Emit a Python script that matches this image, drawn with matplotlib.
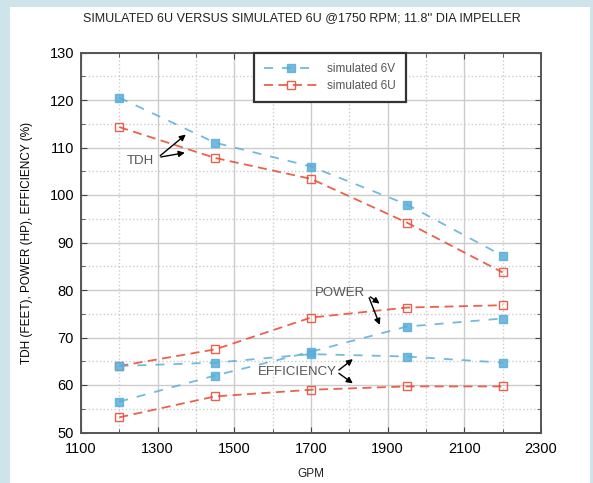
import matplotlib
matplotlib.use("Agg")
import matplotlib.pyplot as plt
from matplotlib.ticker import MultipleLocator

plt.rcParams['font.family'] = ['Liberation Sans Narrow', 'Liberation Sans', 'DejaVu Sans']

gpm = [1200, 1450, 1700, 1950, 2200]
tdh_6v = [120.5, 111.0, 106.0, 98.0, 87.2]
tdh_6u = [114.3, 107.8, 103.4, 94.2, 83.7]
pow_6v = [56.5, 62.0, 67.0, 72.3, 74.0]
pow_6u = [64.0, 67.5, 74.2, 76.3, 76.8]
eff_6v = [64.0, 64.7, 66.5, 66.0, 64.7]
eff_6u = [53.2, 57.6, 59.0, 59.7, 59.7]

blue = '#5aaed8'
red = '#e8503a'

fig = plt.figure(figsize=(5.93, 4.83), dpi=100)
fig.patch.set_facecolor('#cfe4ea')
bg = plt.Rectangle((10/593, 0), 580/593, 1 - 7/483, transform=fig.transFigure,
                   facecolor='white', edgecolor='none', zorder=-10)
fig.patches.append(bg)

ax = fig.add_axes([81/593, 1 - 432.5/483, 460/593, 380/483])
ax.set_zorder(5)
ax.set_xlim(1100, 2300)
ax.set_ylim(50, 130)
ax.xaxis.set_major_locator(MultipleLocator(200, offset=100))
ax.xaxis.set_minor_locator(MultipleLocator(100))
ax.yaxis.set_major_locator(MultipleLocator(10))
ax.yaxis.set_minor_locator(MultipleLocator(5))
ax.grid(which='major', color='#cccccc', linestyle='-', linewidth=1.0)
ax.grid(which='minor', color='#cccccc', linestyle=':', linewidth=1.0)
ax.set_axisbelow(True)
ax.tick_params(which='both', direction='in', top=True, right=True, labelsize=10.5, color='#444444')
ax.tick_params(which='major', length=4)
ax.tick_params(which='minor', length=3)
ax.tick_params(axis='x', which='major', pad=7)
ax.tick_params(axis='y', which='major', pad=5)
for s in ax.spines.values():
    s.set_color('#555555')
    s.set_linewidth(1.4)

kw_v = dict(color=blue, linestyle=(0, (5, 5)), linewidth=1.3, marker='s', markersize=6,
            markerfacecolor=blue, markeredgecolor=blue, alpha=0.85)
kw_u = dict(color=red, linestyle=(0, (5, 3)), linewidth=1.3, marker='s', markersize=6,
            markerfacecolor='none', markeredgecolor=red, alpha=0.9)

ax.plot(gpm, tdh_6v, label='simulated 6V', **kw_v)
ax.plot(gpm, tdh_6u, label='simulated 6U', **kw_u)
ax.plot(gpm, pow_6v, **kw_v)
ax.plot(gpm, pow_6u, **kw_u)
ax.plot(gpm, eff_6v, **kw_v)
ax.plot(gpm, eff_6u, **kw_u)

leg = ax.legend(loc='upper left', bbox_to_anchor=(0.375, 1.0), borderaxespad=0.0,
                fontsize=8.5, fancybox=False, framealpha=1, edgecolor='#333333',
                handlelength=4.5, borderpad=0.9, labelspacing=0.4)
leg.get_frame().set_linewidth(1.6)
for t in leg.get_texts():
    t.set_color('#555555')

ap = dict(arrowstyle='-|>', color='black', lw=1.0, mutation_scale=9)
ax.annotate('', xy=(1379, 113.1), xytext=(1301, 107.9), arrowprops=ap)
ax.annotate('', xy=(1378, 109.0), xytext=(1301, 107.9), arrowprops=ap)
ax.text(1255, 107.2, 'TDH', ha='center', va='center', fontsize=9.5, color='#555555')

ax.annotate('', xy=(1885, 76.8), xytext=(1849, 78.9), arrowprops=ap)
ax.annotate('', xy=(1882, 72.1), xytext=(1849, 78.9), arrowprops=ap)
ax.text(1776, 79.3, 'POWER', ha='center', va='center', fontsize=9.5, color='#555555')

ax.annotate('', xy=(1815, 65.8), xytext=(1767, 62.8), arrowprops=ap)
ax.annotate('', xy=(1815, 60.0), xytext=(1767, 62.8), arrowprops=ap)
ax.text(1663, 62.8, 'EFFICIENCY', ha='center', va='center', fontsize=9.5, color='#555555')

fig.text(302/593, 1 - 18/483, "SIMULATED 6U VERSUS SIMULATED 6U @1750 RPM; 11.8'' DIA IMPELLER",
         ha='center', va='center', fontsize=9, color='#222222')
fig.text(311/593, 1 - 474/483, 'GPM', ha='center', va='center', fontsize=8.5, color='#222222')
ax.set_ylabel('TDH (FEET), POWER (HP), EFFICIENCY (%)', fontsize=8.5, labelpad=12)

fig.savefig('out.png', dpi=100, facecolor=fig.get_facecolor())
